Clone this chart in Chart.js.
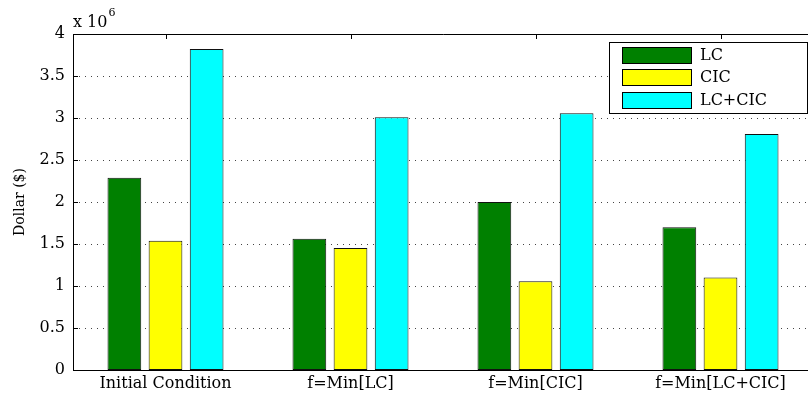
<!DOCTYPE html>
<html>
<head>
<meta charset="utf-8">
<script src="https://cdn.jsdelivr.net/npm/chart.js@4/dist/chart.umd.min.js"></script>
<style>
  html, body { margin: 0; padding: 0; background: #fff; overflow: hidden; }
  #wrap { width: 820px; height: 396px; }
</style>
</head>
<body>
<div id="wrap"><canvas id="c" width="820" height="396"></canvas></div>
<script>
const categories = ['Initial Condition', 'f=Min[LC]', 'f=Min[CIC]', 'f=Min[LC+CIC]'];
const seriesNames = ['LC', 'CIC', 'LC+CIC'];
const lcValues = [2.29e6, 1.563e6, 2.0e6, 1.70e6];
const cicValues = [1.54e6, 1.452e6, 1.056e6, 1.10e6];
const lcCicValues = [3.82e6, 3.008e6, 3.056e6, 2.81e6];
const seriesColors = ['#008000', '#ffff00', '#00ffff'];
const yTickValues = [0, 0.5e6, 1e6, 1.5e6, 2e6, 2.5e6, 3e6, 3.5e6, 4e6];

const FONT = "'DejaVu Serif', serif";

const decor = {
  id: 'decor',
  beforeDatasetsDraw(chart) {
    const {ctx, chartArea: a, scales: {x, y}} = chart;
    ctx.save();
    // dotted grid
    ctx.strokeStyle = '#444';
    ctx.lineWidth = 1;
    ctx.setLineDash([1, 5]);
    yTickValues.forEach(v => {
      if (v === 0 || v === 4e6) return;
      const py = Math.round(y.getPixelForValue(v)) + 0.5;
      ctx.beginPath();
      ctx.moveTo(a.left, py);
      ctx.lineTo(a.right, py);
      ctx.stroke();
    });
    ctx.setLineDash([]);
    ctx.strokeStyle = '#000';
    // bottom x ticks (hidden behind bars)
    categories.forEach((c, i) => {
      const px = Math.round(x.getPixelForValue(i)) + 0.5;
      ctx.beginPath();
      ctx.moveTo(px, a.bottom);
      ctx.lineTo(px, a.bottom - 5);
      ctx.stroke();
    });
    ctx.restore();
  },
  afterDatasetsDraw(chart) {
    const {ctx, chartArea: a, scales: {x, y}} = chart;
    ctx.save();
    ctx.strokeStyle = '#000';
    ctx.lineWidth = 1;
    // axes box
    ctx.beginPath();
    ctx.moveTo(a.left + 0.5, a.top + 0.5);
    ctx.lineTo(a.right, a.top + 0.5);
    ctx.moveTo(a.left + 0.5, a.top);
    ctx.lineTo(a.left + 0.5, a.bottom + 1);
    ctx.moveTo(a.left, a.bottom + 0.5);
    ctx.lineTo(a.right, a.bottom + 0.5);
    ctx.stroke();
    // inward y ticks
    yTickValues.forEach(v => {
      const py = Math.round(y.getPixelForValue(v)) + 0.5;
      ctx.beginPath();
      ctx.moveTo(a.left, py);
      ctx.lineTo(a.left + 5, py);
      ctx.stroke();
    });
    // top x ticks
    categories.forEach((c, i) => {
      const px = Math.round(x.getPixelForValue(i)) + 0.5;
      ctx.beginPath();
      ctx.moveTo(px, a.top);
      ctx.lineTo(px, a.top + 5);
      ctx.stroke();
    });
    // exponent label
    ctx.fillStyle = '#000';
    ctx.textBaseline = 'alphabetic';
    ctx.textAlign = 'left';
    ctx.font = "16px " + FONT;
    ctx.fillText('x 10', a.left, a.top - 7);
    const w = ctx.measureText('x 10').width;
    ctx.font = "11px " + FONT;
    ctx.fillText('6', a.left + w + 1, a.top - 18);
    // legend
    const lx = 609, ly = 42, lw = 198, lh = 71;
    ctx.fillStyle = '#fff';
    ctx.fillRect(lx, ly, lw, lh);
    ctx.strokeRect(lx + 0.5, ly + 0.5, lw, lh);
    const rows = [47, 69, 92];
    chart.data.datasets.forEach((ds, i) => {
      ctx.fillStyle = ds.backgroundColor;
      ctx.fillRect(622, rows[i], 70, 17);
      ctx.strokeStyle = '#000';
      ctx.strokeRect(622.5, rows[i] + 0.5, 69, 16);
      ctx.fillStyle = '#000';
      ctx.font = "16px " + FONT;
      ctx.textBaseline = 'middle';
      ctx.fillText(ds.label, 700, rows[i] + 9);
    });
    ctx.restore();
  }
};

new Chart(document.getElementById('c'), {
  type: 'bar',
  data: {
    labels: categories,
    datasets: [
      { label: seriesNames[0], data: lcValues, backgroundColor: seriesColors[0] },
      { label: seriesNames[1], data: cicValues, backgroundColor: seriesColors[1] },
      { label: seriesNames[2], data: lcCicValues, backgroundColor: seriesColors[2] }
    ].map(d => Object.assign(d, {
      borderColor: '#111', borderWidth: 1, borderSkipped: false,
      categoryPercentage: 0.667, barPercentage: 0.82
    }))
  },
  options: {
    responsive: false,
    animation: false,
    devicePixelRatio: 1,
    layout: { padding: { top: 34, right: 7, left: 0, bottom: 0 } },
    plugins: { legend: { display: false }, tooltip: { enabled: false } },
    scales: {
      x: {
        grid: { display: false, drawTicks: false },
        border: { display: false },
        ticks: { color: '#000', font: { family: FONT, size: 16 }, padding: 4, maxRotation: 0, autoSkip: false },
        afterFit(s) { s.height = 26; }
      },
      y: {
        min: 0, max: 4e6,
        afterBuildTicks(s) { s.ticks = yTickValues.map(v => ({ value: v })); },
        grid: { display: false, drawTicks: false },
        border: { display: false },
        ticks: { color: '#000', font: { family: FONT, size: 16 }, padding: 8,
                 callback: v => String(v / 1e6) },
        title: { display: true, text: 'Dollar ($)', color: '#000',
                 font: { family: FONT, size: 14 }, padding: { top: 12, bottom: 0 } },
        afterFit(s) { s.width = 73; }
      }
    }
  },
  plugins: [decor]
});
</script>
</body>
</html>
